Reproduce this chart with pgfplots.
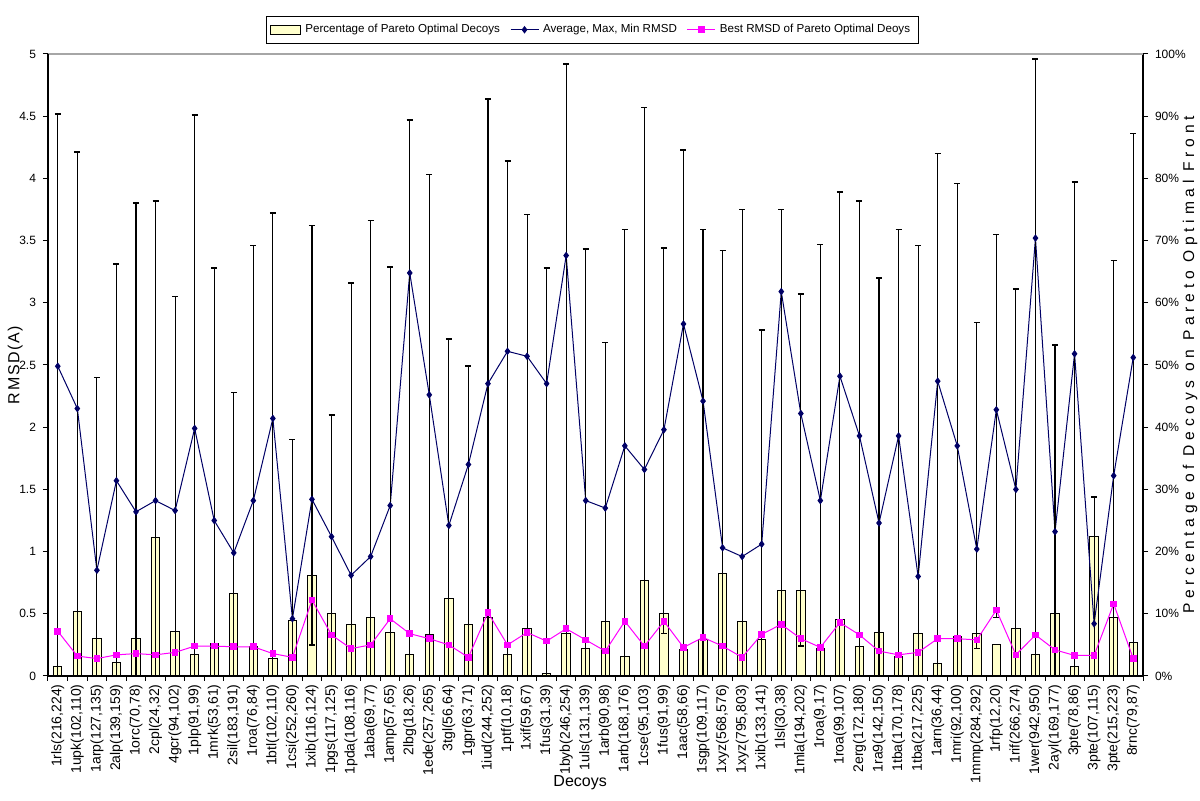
\documentclass[border=0pt]{standalone}
\usepackage{pgfplots}
\usepackage{pgfplotstable}
\pgfplotsset{compat=1.18}
\usepackage{fontspec}
\setmainfont{Liberation Sans}
\definecolor{barfill}{HTML}{FFFFCC}
\definecolor{navy}{HTML}{000066}
\definecolor{pinkm}{HTML}{FF00FF}

\pgfplotsset{
  mylinelegend/.style={legend image code/.code={\draw[mark repeat=2,mark phase=2,##1] plot coordinates {(0pt,0pt) (7pt,0pt) (14pt,0pt)};}},
  mybarlegend/.style={legend image code/.code={\draw[##1] (0pt,-2.2pt) rectangle (15pt,2.2pt);}},
}

\pgfplotstableread{
x avg max min best pct
1 2.49 4.52 0 0.36 1.5
2 2.15 4.21 0 0.16 10.4
3 0.85 2.40 0 0.14 6.0
4 1.57 3.31 0 0.17 2.2
5 1.32 3.80 0 0.18 6.0
6 1.41 3.82 0 0.17 22.2
7 1.33 3.05 0 0.19 7.2
8 1.99 4.51 0 0.24 3.4
9 1.25 3.28 0 0.24 5.2
10 0.99 2.28 0 0.235 13.2
11 1.41 3.46 0 0.235 4.7
12 2.07 3.72 0 0.18 2.8
13 0.46 1.90 0 0.15 9.0
14 1.42 3.62 0.25 0.61 16.2
15 1.12 2.10 0 0.33 10.0
16 0.81 3.16 0 0.22 8.3
17 0.96 3.66 0 0.25 9.4
18 1.37 3.29 0 0.46 7.0
19 3.24 4.47 0 0.34 3.4
20 2.26 4.03 0 0.30 6.6
21 1.21 2.71 0 0.25 12.4
22 1.70 2.49 0 0.15 8.3
23 2.35 4.64 0 0.51 9.4
24 2.61 4.14 0 0.25 3.4
25 2.57 3.71 0 0.35 7.6
26 2.35 3.28 0 0.28 0.4
27 3.38 4.92 0 0.38 6.8
28 1.41 3.43 0 0.29 4.4
29 1.35 2.68 0 0.20 8.8
30 1.85 3.59 0 0.44 3.1
31 1.66 4.57 0 0.24 15.4
32 1.98 3.44 0.34 0.44 10.0
33 2.83 4.23 0 0.23 4.2
34 2.21 3.59 0 0.31 5.8
35 1.03 3.42 0 0.24 16.4
36 0.96 3.75 0 0.15 8.8
37 1.06 2.78 0 0.335 5.9
38 3.09 3.75 0 0.415 13.8
39 2.11 3.07 0.24 0.30 13.8
40 1.41 3.47 0 0.23 4.4
41 2.41 3.89 0 0.43 9.1
42 1.93 3.82 0 0.33 4.7
43 1.23 3.20 0 0.20 7.0
44 1.93 3.59 0 0.17 3.1
45 0.80 3.46 0 0.19 6.8
46 2.37 4.20 0 0.30 2.0
47 1.85 3.96 0 0.30 6.4
48 1.02 2.84 0.22 0.29 6.8
49 2.14 3.55 0.47 0.53 5.0
50 1.50 3.11 0 0.17 7.6
51 3.52 4.96 0 0.33 3.4
52 1.16 2.66 0 0.21 10.0
53 2.59 3.97 0 0.165 1.6
54 0.42 1.44 0 0.165 22.4
55 1.61 3.34 0 0.58 9.4
56 2.56 4.36 0 0.14 5.4
}\data

\newcommand\tf{\fontsize{7}{8}\selectfont}
\newcommand\yf{\fontsize{6}{7}\selectfont}

\begin{document}
\begin{tikzpicture}[x=1pt,y=1pt]
\useasboundingbox (-24,-62.5) rectangle (576,338);
% bars on the right axis
\begin{axis}[
  at={(0,0)}, anchor=south west,
  scale only axis, width=547.5pt, height=311pt,
  xmin=0.5, xmax=56.5, ymin=0, ymax=100,
  axis x line*=bottom, axis y line*=right,
  axis line style={black, line width=0.6pt},
  xtick={1,...,56},
  xticklabels={{1rls(216,224)},{1upk(102,110)},{1arp(127,135)},{2alp(139,159)},{1orc(70,78)},{2cpl(24,32)},{4gcr(94,102)},{1plp(91,99)},{1mrk(53,61)},{2sil(183,191)},{1roa(76,84)},{1btl(102,110)},{1csi(252,260)},{1xib(116,124)},{1pgs(117,125)},{1pda(108,116)},{1aba(69,77)},{1amp(57,65)},{2lbg(18,26)},{1ede(257,265)},{3tgl(56,64)},{1gpr(63,71)},{1iud(244,252)},{1ptf(10,18)},{1xif(59,67)},{1fus(31,39)},{1byb(246,254)},{1uls(131,139)},{1arb(90,98)},{1arb(168,176)},{1cse(95,103)},{1fus(91,99)},{1aac(58,66)},{1sgp(109,117)},{1xyz(568,576)},{1xyz(795,803)},{1xib(133,141)},{1lsl(30,38)},{1mla(194,202)},{1roa(9,17)},{1roa(99,107)},{2erg(172,180)},{1ra9(142,150)},{1tba(170,178)},{1tba(217,225)},{1arn(36,44)},{1mri(92,100)},{1mmp(284,292)},{1rfp(12,20)},{1rif(266,274)},{1wer(942,950)},{2ayl(169,177)},{3pte(78,86)},{3pte(107,115)},{3pte(215,223)},{8rnc(79,87)}},
  xticklabel style={rotate=90, anchor=east, font=\tf, inner sep=1.5pt},
  x tick style={draw=none},
  ytick={0,10,...,100},
  yticklabels={0\%,10\%,20\%,30\%,40\%,50\%,60\%,70\%,80\%,90\%,100\%},
  yticklabel style={font=\yf},
  y tick style={black, line width=0.5pt},
  tick align=outside, major tick length=2.5pt,
  ylabel={\addfontfeature{LetterSpace=30}Percentage of Decoys on Pareto Optimal Front},
  ylabel style={font=\fontsize{7.8}{9}\selectfont, at={(axis description cs:1.043,0.5)}, anchor=center},
  xlabel={Decoys},
  xlabel style={font=\fontsize{8}{9}\selectfont, at={(axis description cs:0.486,-0.172)}, anchor=center},
  clip=false,
]
\addplot[ybar, bar width=4.2pt, fill=barfill, draw=black, line width=0.5pt] table[x=x, y=pct] {\data};
\draw[gray!70, line width=0.6pt] (rel axis cs:0,1) -- (rel axis cs:1,1);
\end{axis}
% lines on the left axis
\begin{axis}[
  at={(0,0)}, anchor=south west,
  scale only axis, width=547.5pt, height=311pt,
  xmin=0.5, xmax=56.5, ymin=0, ymax=5,
  axis x line*=bottom, axis y line*=left,
  axis line style={black, line width=0.6pt},
  xtick={0.5,1.5,...,56.5}, xticklabels={},
  ytick={0,0.5,...,5},
  yticklabels={0,0.5,1,1.5,2,2.5,3,3.5,4,4.5,5},
  yticklabel style={font=\yf},
  tick style={black, line width=0.5pt},
  tick align=outside, major tick length=2.5pt,
  ylabel={\addfontfeature{LetterSpace=10}RMSD(A)},
  ylabel style={font=\fontsize{8}{9}\selectfont, at={(axis description cs:-0.030,0.5)}, anchor=center},
  legend style={at={(axis description cs:0.497,1.039)}, anchor=center, legend columns=3, draw=black, line width=0.5pt, font=\fontsize{5.8}{7}\selectfont, inner sep=2pt, /tikz/every even column/.append style={column sep=3pt}},
  mylinelegend,
  clip=false,
]
\addlegendimage{fill=barfill, draw=black, line width=0.5pt, mybarlegend}
\addlegendentry{Percentage of Pareto Optimal Decoys}
\addplot[color=navy, line width=0.5pt, mark=diamond*, mark size=1.5pt, mark options={fill=navy, draw=navy},
  error bars/.cd, y dir=both, y explicit,
  error bar style={black, line width=0.55pt},
  error mark options={rotate=90, black, line width=0.8pt, mark size=1.5pt}]
  table[x=x, y=avg, y error plus expr=\thisrow{max}-\thisrow{avg}, y error minus expr=\thisrow{avg}-\thisrow{min}] {\data};
\addlegendentry{Average, Max, Min RMSD}
\addplot[color=pinkm, line width=0.5pt, mark=square*, mark size=1.4pt, mark options={fill=pinkm, draw=pinkm}]
  table[x=x, y=best] {\data};
\addlegendentry{Best RMSD of Pareto Optimal Deoys}
\end{axis}
\end{tikzpicture}
\end{document}
